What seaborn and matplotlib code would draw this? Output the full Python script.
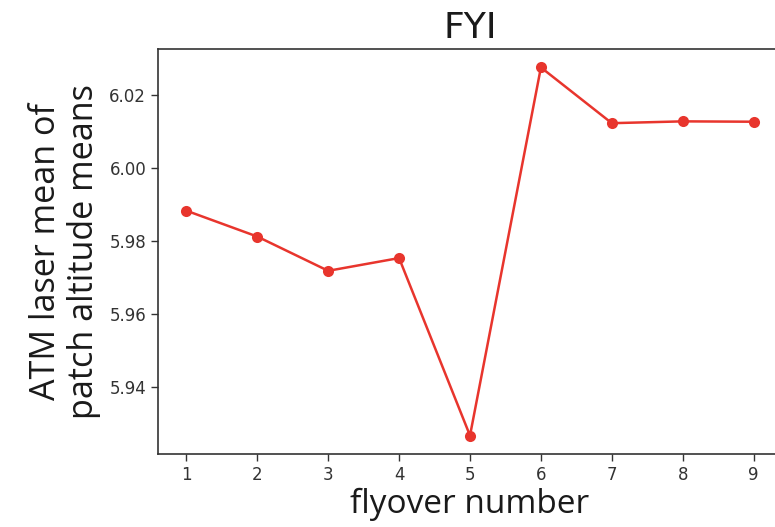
import matplotlib
matplotlib.use("Agg")
import matplotlib.pyplot as plt
from matplotlib.transforms import Bbox
import seaborn as sns
import pandas as pd

flyover = [1, 2, 3, 4, 5, 6, 7, 8, 9]
altitude = [5.9883, 5.9812, 5.9718, 5.9753, 5.9266, 6.0276, 6.0123, 6.0128, 6.0127]
yticks = [5.94, 5.96, 5.98, 6.00, 6.02]

df = pd.DataFrame({"flyover": flyover, "alt": altitude})

plt.rcParams["font.family"] = ["DejaVu Sans"]
W, H = 7.9, 5.27
fig = plt.figure(figsize=(W, H), dpi=100)
ax = fig.add_axes([158 / 790, (527 - 454) / 527, (782 - 158) / 790, (454 - 49) / 527])

sns.lineplot(data=df, x="flyover", y="alt", ax=ax, color="#e8352d",
             marker="o", markersize=8, markeredgewidth=0, linewidth=1.8)

ax.set_xticks(flyover)
ax.set_xticklabels([str(v) for v in flyover])
ax.set_yticks(yticks)
ax.set_yticklabels([f"{v:.2f}" for v in yticks])
ax.margins(x=0.05, y=0.05)
ax.tick_params(labelsize=12, colors="#333333", length=5, width=1)
for s in ax.spines.values():
    s.set_linewidth(1.2)
    s.set_color("#333333")

ax.set_title("FYI", fontsize=26, pad=8, color="#1a1a1a")
ax.set_xlabel("flyover number", fontsize=24, color="#1a1a1a", labelpad=3,
              family="Open Sans")
ax.set_ylabel("ATM laser mean of\npatch altitude means", fontsize=24.6,
              color="#1a1a1a", labelpad=6, linespacing=1.15, family="Open Sans")

fig.savefig("out.png", dpi=100, bbox_inches=Bbox([[0, 0], [7.75, 5.27]]))
